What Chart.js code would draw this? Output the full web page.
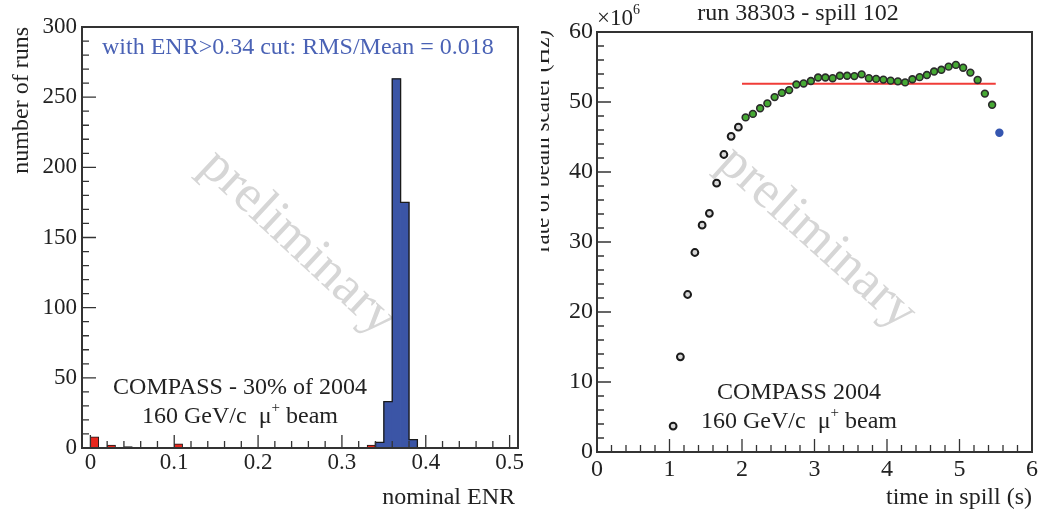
<!DOCTYPE html>
<html>
<head>
<meta charset="utf-8">
<script src="https://cdn.jsdelivr.net/npm/chart.js@4.4.0/dist/chart.umd.min.js"></script>
<style>
  html, body { margin: 0; padding: 0; background: #fff; }
  body { width: 1041px; height: 518px; position: relative; overflow: hidden; }
  .panel { position: absolute; top: 0; height: 518px; }
  #left { left: 0; width: 530px; }
  #right { left: 541px; width: 500px; }
</style>
</head>
<body>
<div class="panel" id="left"><canvas id="enrChart"></canvas></div>
<div class="panel" id="right"><canvas id="spillChart"></canvas></div>
<script>
// left panel: nominal ENR per run, bins of 0.01
const enrBinWidth = 0.01
const rejectedBins = [0.005, 0.025, 0.045, 0.105, 0.335]
const rejectedRuns = [8, 2, 1, 3, 2]
const acceptedBins = [0.345, 0.355, 0.365, 0.375, 0.385]
const acceptedRuns = [4, 33, 263, 175, 6]
const enrTicks = [0, 0.1, 0.2, 0.3, 0.4, 0.5]
const enrTickLabels = ['0', '0.1', '0.2', '0.3', '0.4', '0.5']

// right panel: beam scaler rate along the spill, in units of 10^6 Hz
const rampTime = [1.05, 1.15, 1.25, 1.35, 1.45, 1.55, 1.65, 1.75, 1.85, 1.95]
const rampRate = [3.7, 13.6, 22.5, 28.5, 32.4, 34.1, 38.4, 42.5, 45.1, 46.4]
const flatTime = [2.05, 2.15, 2.25, 2.35, 2.45, 2.55, 2.65, 2.75, 2.85, 2.95,
                  3.05, 3.15, 3.25, 3.35, 3.45, 3.55, 3.65, 3.75, 3.85, 3.95,
                  4.05, 4.15, 4.25, 4.35, 4.45, 4.55, 4.65, 4.75, 4.85, 4.95,
                  5.05, 5.15, 5.25, 5.35, 5.45]
const flatRate = [47.8, 48.3, 49.1, 49.8, 50.7, 51.3, 51.7, 52.5, 52.65, 53.0,
                  53.5, 53.5, 53.4, 53.75, 53.75, 53.7, 53.95, 53.4, 53.3, 53.2,
                  53.05, 52.95, 52.8, 53.25, 53.55, 53.85, 54.35, 54.6, 55.05, 55.3,
                  54.9, 54.2, 53.15, 51.2, 49.6]
const tailTime = [5.55]
const tailRate = [45.6]
const meanTime = [2.0, 5.5]
const meanRate = [52.6, 52.6]

const SERIF = '"Liberation Serif", "Times New Roman", serif'
Chart.defaults.font.family = SERIF
Chart.defaults.color = '#222'

function zip(xs, ys){ return xs.map((x, i) => ({x: x, y: ys[i]})) }

// outline of the accepted histogram, like ROOT draws it
function stepOutline(centers, counts, w){
  const pts = [{x: centers[0] - w / 2, y: 0}]
  centers.forEach((c, i) => pts.push({x: c - w / 2, y: counts[i]}))
  pts.push({x: centers[centers.length - 1] + w / 2, y: 0})
  return pts
}

function minorValues(scale, step){
  const out = []
  const a = Math.ceil(scale.min / step - 1e-9), b = Math.floor(scale.max / step + 1e-9)
  for(let k = a; k <= b; k++) out.push(k * step)
  return out
}

// box around the plot, ticks pointing inwards
const framePlugin = {
  id: 'frame',
  afterDatasetsDraw(chart, args, opts){
    const {ctx, chartArea: a} = chart
    const x = chart.scales.x, y = chart.scales.y
    ctx.save()
    ctx.strokeStyle = '#333'
    ctx.lineWidth = 1.3
    ctx.beginPath()
    minorValues(x, opts.minorX).forEach(v => { const p = x.getPixelForValue(v); ctx.moveTo(p, a.bottom); ctx.lineTo(p, a.bottom - 7) })
    x.ticks.forEach(t => { const p = x.getPixelForValue(t.value); ctx.moveTo(p, a.bottom); ctx.lineTo(p, a.bottom - 13) })
    minorValues(y, opts.minorY).forEach(v => { const p = y.getPixelForValue(v); ctx.moveTo(a.left, p); ctx.lineTo(a.left + 7, p) })
    y.ticks.forEach(t => { const p = y.getPixelForValue(t.value); ctx.moveTo(a.left, p); ctx.lineTo(a.left + 14, p) })
    ctx.stroke()
    ctx.lineWidth = 2
    ctx.strokeRect(a.left, a.top, a.right - a.left, a.bottom - a.top)
    ctx.restore()
  }
}

function drawRich(ctx, parts, x, y, size, align){
  const fonts = parts.map(p => (p[1] ? Math.round(size * 0.62) : size) + 'px ' + SERIF)
  const widths = parts.map((p, i) => { ctx.font = fonts[i]; return ctx.measureText(p[0]).width })
  const total = widths.reduce((s, w) => s + w, 0)
  let cx = align === 'center' ? x - total / 2 : align === 'right' ? x - total : x
  ctx.textAlign = 'left'
  ctx.textBaseline = 'middle'
  parts.forEach((p, i) => {
    ctx.font = fonts[i]
    ctx.fillText(p[0], cx, p[1] ? y - size * 0.36 : y)
    cx += widths[i]
  })
}

// free texts: notes, axis titles and the watermark
const notesPlugin = {
  id: 'notes',
  beforeDatasetsDraw(chart, args, opts){
    const ctx = chart.ctx
    const wm = opts.watermark
    ctx.save()
    ctx.translate(wm.x, wm.y)
    ctx.rotate(wm.angle * Math.PI / 180)
    ctx.fillStyle = '#d6d6d6'
    ctx.font = wm.size + 'px ' + SERIF
    ctx.textAlign = 'center'
    ctx.textBaseline = 'middle'
    ctx.fillText('preliminary', 0, 0)
    ctx.restore()
  },
  afterDraw(chart, args, opts){
    const ctx = chart.ctx
    ctx.save()
    opts.texts.forEach(t => {
      ctx.fillStyle = t.color || '#222'
      if(t.rotate){
        ctx.save()
        ctx.translate(t.x, t.y)
        ctx.rotate(-Math.PI / 2)
        ctx.font = t.size + 'px ' + SERIF
        ctx.textAlign = 'right'
        ctx.textBaseline = t.baseline || 'middle'
        ctx.fillText(t.parts[0][0], 0, 0)
        ctx.restore()
      } else {
        drawRich(ctx, t.parts, t.x, t.y, t.size, t.align)
      }
    })
    ctx.restore()
  }
}

function renderEnrChart(){
  new Chart(document.getElementById('enrChart'), {
    type: 'bar',
    data: {
      datasets: [
        {type: 'line', data: stepOutline(acceptedBins, acceptedRuns, enrBinWidth), stepped: 'before',
         borderColor: '#1a1a1a', borderWidth: 1.3, pointRadius: 0, fill: false, order: 0},
        {data: zip(acceptedBins, acceptedRuns), backgroundColor: '#3b55a6', borderWidth: 0, order: 1},
        {data: zip(rejectedBins, rejectedRuns), backgroundColor: '#e8281e', borderColor: '#1a1a1a', borderWidth: 1, order: 1}
      ]
    },
    options: {
      responsive: true, maintainAspectRatio: false, animation: false,
      layout: {padding: {left: 0, top: 27, right: 12, bottom: 0}},
      datasets: {bar: {grouped: false, barPercentage: 1, categoryPercentage: 1}},
      plugins: {
        legend: {display: false}, tooltip: {enabled: false},
        frame: {minorX: 0.02, minorY: 10},
        notes: {
          watermark: {x: 298, y: 243, angle: 43, size: 53},
          texts: [
            {parts: [['with ENR>0.34 cut: RMS/Mean = 0.018']], x: 102, y: 48, size: 24, align: 'left', color: '#4a62b5'},
            {parts: [['COMPASS - 30% of 2004']], x: 240, y: 388, size: 24, align: 'center'},
            {parts: [['160 GeV/c  \u03bc'], ['+', true], [' beam']], x: 240, y: 417, size: 24, align: 'center'},
            {parts: [['nominal ENR']], x: 515, y: 498, size: 24, align: 'right'},
            {parts: [['number of runs']], x: 22, y: 27, size: 24, rotate: true}
          ]
        }
      },
      scales: {
        x: {
          type: 'linear', min: -0.01, max: 0.51, offset: false,
          grid: {display: false, drawTicks: false}, border: {display: false},
          afterBuildTicks: s => { s.ticks = enrTicks.map(v => ({value: v})) },
          afterFit: s => { s.height = 70 },
          ticks: {autoSkip: false, maxRotation: 0, padding: 1, font: {size: 23},
                  callback: (v, i) => enrTickLabels[i]}
        },
        y: {
          min: 0, max: 300,
          grid: {display: false, drawTicks: false}, border: {display: false},
          afterFit: s => { s.width = 82 },
          ticks: {stepSize: 50, padding: 5, font: {size: 23}}
        }
      }
    },
    plugins: [framePlugin, notesPlugin]
  })
}

function renderSpillChart(){
  const dot = {pointRadius: 3.4, pointBorderWidth: 1.6, pointHoverRadius: 3.4}
  new Chart(document.getElementById('spillChart'), {
    type: 'scatter',
    data: {
      datasets: [
        {data: zip(meanTime, meanRate), showLine: true, borderColor: '#f03c38', borderWidth: 2, pointRadius: 0, order: 1},
        Object.assign({data: zip(rampTime, rampRate), borderColor: '#1a1a1a', backgroundColor: '#d8d8d8', order: 0}, dot, {pointBorderWidth: 2}),
        Object.assign({data: zip(flatTime, flatRate), borderColor: '#2b2b2b', backgroundColor: '#46a934', order: 0}, dot),
        Object.assign({data: zip(tailTime, tailRate), borderColor: '#3556b0', backgroundColor: '#3556b0', order: 0}, dot)
      ]
    },
    options: {
      responsive: true, maintainAspectRatio: false, animation: false,
      layout: {padding: {left: 0, top: 32, right: 9, bottom: 0}},
      plugins: {
        legend: {display: false}, tooltip: {enabled: false},
        frame: {minorX: 0.2, minorY: 2},
        notes: {
          watermark: {x: 276, y: 238, angle: 42, size: 53},
          texts: [
            {parts: [['run 38303 - spill 102']], x: 257, y: 14, size: 24, align: 'center'},
            {parts: [['\u00d710'], ['6', true]], x: 56, y: 19, size: 23, align: 'left'},
            {parts: [['rate of beam scaler (Hz)']], x: 8, y: 30, size: 23, rotate: true, baseline: 'alphabetic'},
            {parts: [['COMPASS 2004']], x: 258, y: 393, size: 24, align: 'center'},
            {parts: [['160 GeV/c  \u03bc'], ['+', true], [' beam']], x: 258, y: 422, size: 24, align: 'center'},
            {parts: [['time in spill (s)']], x: 491, y: 498, size: 24, align: 'right'}
          ]
        }
      },
      scales: {
        x: {
          type: 'linear', min: 0, max: 6,
          grid: {display: false, drawTicks: false}, border: {display: false},
          afterFit: s => { s.height = 66 },
          ticks: {stepSize: 1, autoSkip: false, maxRotation: 0, padding: 3, font: {size: 24}}
        },
        y: {
          min: 0, max: 60,
          grid: {display: false, drawTicks: false}, border: {display: false},
          afterFit: s => { s.width = 56 },
          ticks: {stepSize: 10, padding: 4, font: {size: 24}}
        }
      }
    },
    plugins: [framePlugin, notesPlugin]
  })
}

renderEnrChart()
renderSpillChart()
</script>
</body>
</html>
